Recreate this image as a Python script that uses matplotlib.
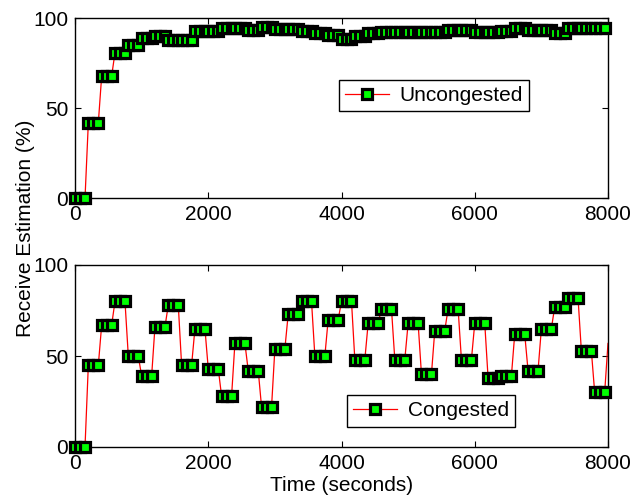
import numpy as np
import matplotlib
matplotlib.use("Agg")
from matplotlib import pyplot as plt
from matplotlib.lines import Line2D

plt.rcParams["font.family"] = ["Liberation Sans", "DejaVu Sans"]

# cada nivel dura 200 s, com tres amostras por nivel
step_len = 200
sample_offsets = [0, 75, 150]

uncongested = [0, 42, 68, 81, 85, 89, 90, 88, 88, 93,
               93, 94.5, 94.5, 93.5, 95, 94, 94, 93, 92, 91,
               88.5, 90, 92, 92.5, 92.5, 92.5, 92.5, 92.5, 93.5, 93.5,
               92.5, 92.5, 93, 94.5, 93.5, 93.5, 92, 94.5, 94.5, 94.5]

congested = [0, 45, 67, 80, 50, 39, 66, 78, 45, 65,
             43, 28, 57, 42, 22, 54, 73, 80, 50, 70,
             80, 48, 68, 76, 48, 68, 40, 64, 76, 48,
             68, 38, 39, 62, 42, 65, 77, 82, 53, 30,
             57]

x_ticks = [0, 2000, 4000, 6000, 8000]
y_ticks = [0, 50, 100]
x_max = 8000


def amostras(niveis):
    t, v = [], []
    for k, nivel in enumerate(niveis):
        for off in sample_offsets:
            t.append(k * step_len + off)
            v.append(nivel)
    return np.array(t), np.array(v)


def painel(ax, niveis, rotulo, pos_leg):
    t, v = amostras(niveis)
    estilo = dict(marker="s", ms=6.5, mew=2.3, mfc="#00ff00", mec="black")

    # linha (cortada no eixo) e marcadores por cima
    ax.plot(t, v, color="red", lw=0.9, zorder=2)
    vis = t < x_max
    ax.plot(t[vis], v[vis], ls="none", clip_on=False, zorder=3, **estilo)

    ax.set_xlim(0, x_max)
    ax.set_ylim(0, 100)
    ax.set_xticks(x_ticks)
    ax.set_yticks(y_ticks)
    ax.tick_params(direction="in", top=True, right=True, length=4,
                   width=0.8, labelsize=15, pad=5)
    for s in ax.spines.values():
        s.set_linewidth(1.0)

    handle = Line2D([], [], color="red", lw=0.9, **estilo)
    leg = ax.legend([handle], [rotulo], loc="center", bbox_to_anchor=pos_leg,
                    fontsize=15, handlelength=2.1, handletextpad=0.5,
                    borderpad=0.3, fancybox=False, edgecolor="black",
                    framealpha=1)
    leg.get_frame().set_linewidth(1.0)


fig = plt.figure(figsize=(6.33, 5.0), dpi=100)
ax1 = fig.add_axes([0.1185, 0.6034, 0.842, 0.3596])
ax2 = fig.add_axes([0.1185, 0.106, 0.842, 0.364])

painel(ax1, uncongested, "Uncongested", (0.673, 0.572))
painel(ax2, congested, "Congested", (0.668, 0.198))

ax2.set_xlabel("Time (seconds)", fontsize=15, labelpad=2)
fig.text(0.041, 0.544, "Receive Estimation (%)", rotation=90,
         ha="center", va="center", fontsize=15)

fig.savefig("out.png", dpi=100)
